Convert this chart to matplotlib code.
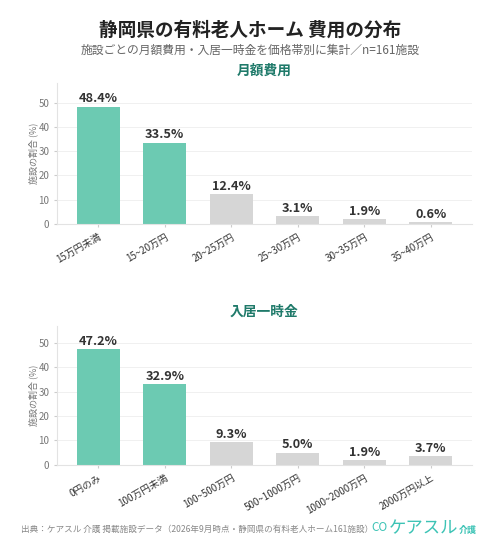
import matplotlib
matplotlib.use("Agg")
import matplotlib.pyplot as plt

plt.rcParams['font.family'] = ['Noto Sans CJK JP', 'DejaVu Sans']

# data
monthly_labels = ['15万円未満', '15~20万円', '20~25万円', '25~30万円', '30~35万円', '35~40万円']
monthly_values = [48.4, 33.5, 12.4, 3.1, 1.9, 0.6]
entry_labels = ['0円のみ', '100万円未満', '100~500万円', '500~1000万円', '1000~2000万円', '2000万円以上']
entry_values = [47.2, 32.9, 9.3, 5.0, 1.9, 3.7]
highlight_n = 2  # first two bars are highlighted

TEAL = '#6CCAB2'
GRAY = '#D6D6D6'
SECTION = '#1F7A6A'
LOGO = '#3CC3B5'


def draw_panel(ax, labels, values):
    x = list(range(len(values)))
    colors = [TEAL if i < highlight_n else GRAY for i in x]
    ax.bar(x, values, width=0.64, color=colors, zorder=2)
    for i, v in zip(x, values):
        ax.text(i, v + 0.5, f'{v:.1f}%', ha='center', va='bottom',
                fontsize=9.2, fontweight='bold', color='#333333')
    ax.set_xlim(-0.62, len(values) - 0.38)
    ax.set_ylim(0, max(values) * 1.2)
    ax.set_yticks([0, 10, 20, 30, 40, 50])
    ax.set_xticks(x)
    ax.set_xticklabels(labels, rotation=30, ha='right', rotation_mode='anchor',
                       fontsize=7, color='#333333')
    ax.tick_params(axis='y', labelsize=7, labelcolor='#777777', length=2,
                   color='#cccccc')
    ax.tick_params(axis='x', length=2, color='#cccccc')
    ax.grid(axis='y', color='#f0f0f0', linewidth=0.7, zorder=0)
    ax.set_axisbelow(True)
    for s in ['top', 'right']:
        ax.spines[s].set_visible(False)
    for s in ['left', 'bottom']:
        ax.spines[s].set_color('#e3e3e3')
        ax.spines[s].set_linewidth(0.8)
    ax.set_ylabel('施設の割合 (%)', fontsize=6.5, color='#777777', labelpad=0)


fig = plt.figure(figsize=(5.0, 5.58), dpi=100)
fig.patch.set_facecolor('white')

ax1 = fig.add_axes([0.114, 0.599, 0.83, 0.252])
draw_panel(ax1, monthly_labels, monthly_values)
ax2 = fig.add_axes([0.114, 0.167, 0.83, 0.248])
draw_panel(ax2, entry_labels, entry_values)

fig.text(0.5, 0.946, '静岡県の有料老人ホーム 費用の分布', ha='center', va='center',
         fontsize=13.4, fontweight='bold', color='#222222')
fig.text(0.5, 0.910, '施設ごとの月額費用・入居一時金を価格帯別に集計／n=161施設',
         ha='center', va='center', fontsize=8.5, color='#666666')
fig.text(0.528, 0.874, '月額費用', ha='center', va='center', fontsize=9.9,
         fontweight='bold', color=SECTION)
fig.text(0.528, 0.441, '入居一時金', ha='center', va='center', fontsize=9.9,
         fontweight='bold', color=SECTION)

fig.text(0.042, 0.052, '出典：ケアスル 介護 掲載施設データ（2026年9月時点・静岡県の有料老人ホーム161施設）',
         ha='left', va='center', fontsize=6.2, color='#888888')
fig.text(0.774, 0.054, 'CO', ha='right', va='center', fontsize=8.5, color=LOGO)
fig.text(0.778, 0.054, 'ケアスル', ha='left', va='center', fontsize=12.5,
         color=LOGO)
fig.text(0.953, 0.050, '介護', ha='right', va='center', fontsize=6.5,
         fontweight='bold', color=LOGO)

fig.savefig('out.png', dpi=100)
